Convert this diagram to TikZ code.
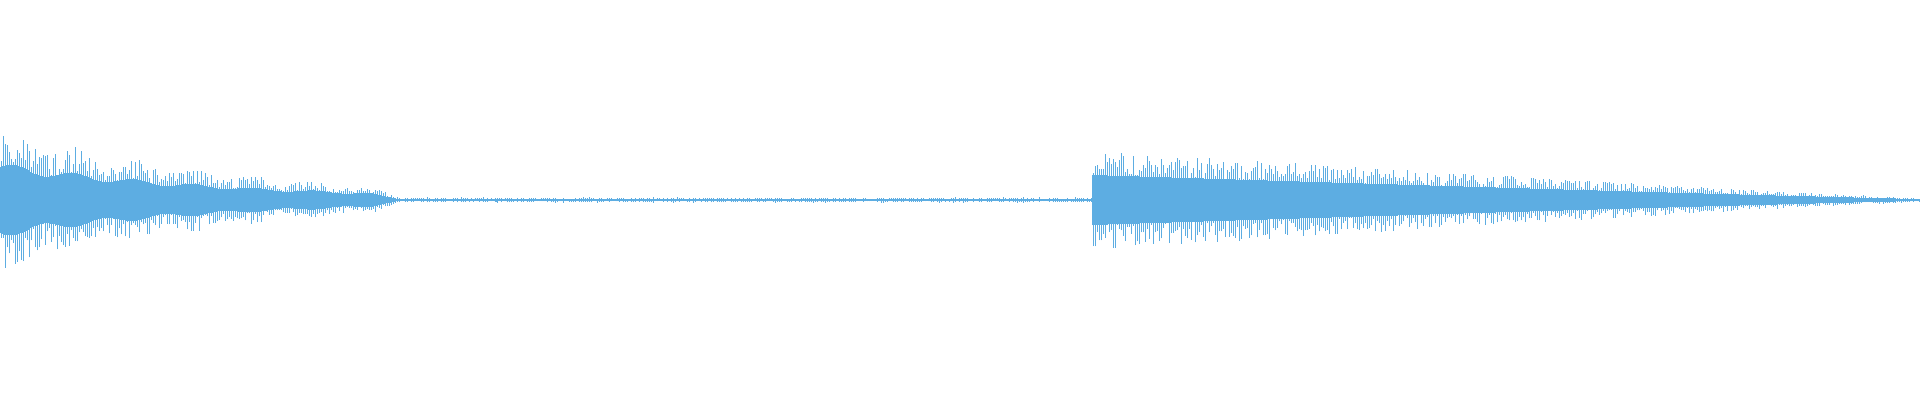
\documentclass[tikz,border=0pt]{standalone}
\definecolor{wave}{RGB}{93,173,226}
\begin{document}
\begin{tikzpicture}[x=1pt,y=1pt,core/.style={wave,line width=2pt},spike/.style={wave,line width=1pt}]
\useasboundingbox[fill=white] (0,0) rectangle (1920,400);
\pgfmathsetseed{7}
\draw[wave,line width=1pt] (405,200) -- (1095,200);
\foreach \x in {1,3,...,1919}{
  \pgfmathsetmacro\e{\x<405 ? (75*exp(-\x/230)*(0.88+0.12*cos(6*(\x-15)))*min(1,(405-\x)/40+0.08)) : (\x<1093 ? 1.5+rnd*1.5 : 2+48*(1-(\x-1093)/827)^1.1)}
  \pgfmathsetmacro\a{\e*(0.5+0.5*rnd)}
  \pgfmathsetmacro\b{\e*(0.5+0.5*rnd)}
  \pgfmathsetmacro\c{\e*0.5}
  \draw[core] (\x,200-\c) -- (\x,200+\c);
  \draw[spike] (\x,200-\a) -- (\x,200+\b);
}
\end{tikzpicture}
\end{document}
